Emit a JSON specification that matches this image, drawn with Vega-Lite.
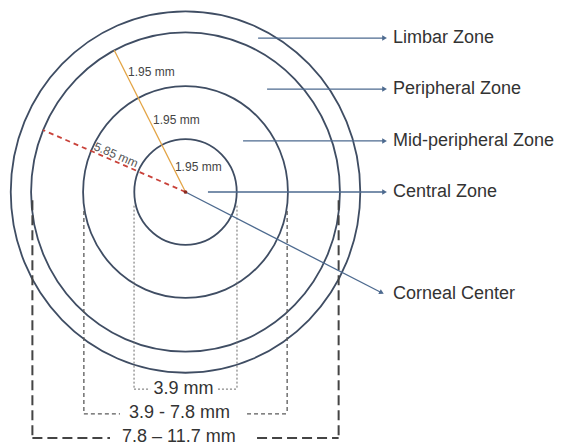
{
  "$schema": "https://vega.github.io/schema/vega-lite/v6.json",
  "width": 571,
  "height": 448,
  "autosize": {"type": "none"},
  "padding": 0,
  "background": "white",
  "config": {"view": {"stroke": null}},
  "datasets": {
    "circles": [
      {"zone": "Limbar", "x": 0, "y": 0, "r": 6.62},
      {"zone": "Peripheral", "x": 0, "y": 0, "r": 5.85},
      {"zone": "Mid-peripheral", "x": 0, "y": 0, "r": 3.88},
      {"zone": "Central", "x": 0, "y": 0, "r": 1.94}
    ],
    "radii": [
      {"kind": "orange", "x": 0, "y": 0, "x2": -2.70, "y2": 5.19},
      {"kind": "red", "x": 0, "y": 0, "x2": -5.40, "y2": 2.27}
    ],
    "arrows": [
      {"label": "Limbar Zone", "x": 2.75, "y": 5.64, "x2": 7.54, "y2": 5.64},
      {"label": "Peripheral Zone", "x": 3.09, "y": 3.77, "x2": 7.54, "y2": 3.77},
      {"label": "Mid-peripheral Zone", "x": 2.18, "y": 1.87, "x2": 7.54, "y2": 1.87},
      {"label": "Central Zone", "x": 0.85, "y": 0, "x2": 7.54, "y2": 0},
      {"label": "Corneal Center", "x": 0, "y": 0, "x2": 7.43, "y2": -3.69}
    ],
    "heads": [
      {"label": "Limbar Zone", "x": 7.54, "y": 5.64, "dir": "h"},
      {"label": "Peripheral Zone", "x": 7.54, "y": 3.77, "dir": "h"},
      {"label": "Mid-peripheral Zone", "x": 7.54, "y": 1.87, "dir": "h"},
      {"label": "Central Zone", "x": 7.54, "y": 0, "dir": "h"},
      {"label": "Corneal Center", "x": 7.43, "y": -3.69, "dir": "d"}
    ],
    "zoneLabels": [
      {"label": "Limbar Zone", "x": 7.86, "y": 5.64},
      {"label": "Peripheral Zone", "x": 7.86, "y": 3.77},
      {"label": "Mid-peripheral Zone", "x": 7.86, "y": 1.87},
      {"label": "Central Zone", "x": 7.86, "y": 0},
      {"label": "Corneal Center", "x": 7.86, "y": -3.74}
    ],
    "brackets": [
      {"level": "inner", "x": -1.95, "y": -0.5, "x2": -1.95, "y2": -7.22},
      {"level": "inner", "x": 1.95, "y": -0.5, "x2": 1.95, "y2": -7.22},
      {"level": "inner", "x": -1.95, "y": -7.22, "x2": -1.34, "y2": -7.22},
      {"level": "inner", "x": 1.23, "y": -7.22, "x2": 1.95, "y2": -7.22},
      {"level": "middle", "x": -3.85, "y": -0.7, "x2": -3.85, "y2": -8.13},
      {"level": "middle", "x": 3.85, "y": -0.7, "x2": 3.85, "y2": -8.13},
      {"level": "middle", "x": -3.85, "y": -8.13, "x2": -2.48, "y2": -8.13},
      {"level": "middle", "x": 2.33, "y": -8.13, "x2": 3.85, "y2": -8.13},
      {"level": "outer", "x": -5.8, "y": -0.3, "x2": -5.8, "y2": -9.01},
      {"level": "outer", "x": 5.8, "y": -0.3, "x2": 5.8, "y2": -9.01},
      {"level": "outer", "x": -5.8, "y": -9.01, "x2": -2.86, "y2": -9.01},
      {"level": "outer", "x": 2.71, "y": -9.01, "x2": 5.8, "y2": -9.01}
    ],
    "bracketLabels": [
      {"label": "3.9 mm", "x": -0.08, "y": -7.22},
      {"label": "3.9 - 7.8 mm", "x": -0.23, "y": -8.10},
      {"label": "7.8 – 11.7 mm", "x": -0.25, "y": -8.97}
    ],
    "widthLabels": [
      {"label": "1.95 mm", "x": -2.18, "y": 4.40},
      {"label": "1.95 mm", "x": -1.23, "y": 2.64},
      {"label": "1.95 mm", "x": -0.40, "y": 0.92}
    ],
    "radiusLabel": [
      {"label": "5.85 mm", "x": -2.63, "y": 1.36}
    ],
    "center": [{"x": 0, "y": 0}]
  },
  "layer": [
    {
      "data": {"name": "circles"},
      "mark": {"type": "point", "shape": "M-0.967,0A0.967,1 0 1,1 0.967,0A0.967,1 0 1,1 -0.967,0Z", "filled": false, "stroke": "#3f4d63", "strokeWidth": 1.8, "opacity": 1},
      "encoding": {
        "x": {"field": "x", "type": "quantitative", "scale": {"domain": [-7.027, 14.602], "nice": false, "zero": false}, "axis": null},
        "y": {"field": "y", "type": "quantitative", "scale": {"domain": [-9.377, 7.033], "nice": false, "zero": false}, "axis": null},
        "size": {"field": "r", "type": "quantitative", "scale": {"type": "pow", "exponent": 2, "domain": [0, 6.62], "range": [0, 130646]}, "legend": null}
      }
    },
    {
      "data": {"name": "brackets"},
      "transform": [{"filter": "datum.level === 'inner'"}],
      "mark": {"type": "rule", "stroke": "#6a6a6a", "strokeWidth": 1, "strokeDash": [2, 2]},
      "encoding": {
        "x": {"field": "x", "type": "quantitative", "axis": null},
        "y": {"field": "y", "type": "quantitative", "axis": null},
        "x2": {"field": "x2"},
        "y2": {"field": "y2"}
      }
    },
    {
      "data": {"name": "brackets"},
      "transform": [{"filter": "datum.level === 'middle'"}],
      "mark": {"type": "rule", "stroke": "#5a5a5a", "strokeWidth": 1.3, "strokeDash": [4, 3]},
      "encoding": {
        "x": {"field": "x", "type": "quantitative", "axis": null},
        "y": {"field": "y", "type": "quantitative", "axis": null},
        "x2": {"field": "x2"},
        "y2": {"field": "y2"}
      }
    },
    {
      "data": {"name": "brackets"},
      "transform": [{"filter": "datum.level === 'outer'"}],
      "mark": {"type": "rule", "stroke": "#444444", "strokeWidth": 2, "strokeDash": [10, 5]},
      "encoding": {
        "x": {"field": "x", "type": "quantitative", "axis": null},
        "y": {"field": "y", "type": "quantitative", "axis": null},
        "x2": {"field": "x2"},
        "y2": {"field": "y2"}
      }
    },
    {
      "data": {"name": "arrows"},
      "mark": {"type": "rule", "stroke": "#4d6a8f", "strokeWidth": 1.3},
      "encoding": {
        "x": {"field": "x", "type": "quantitative", "axis": null},
        "y": {"field": "y", "type": "quantitative", "axis": null},
        "x2": {"field": "x2"},
        "y2": {"field": "y2"}
      }
    },
    {
      "data": {"name": "heads"},
      "transform": [{"filter": "datum.dir === 'h'"}],
      "mark": {"type": "point", "shape": "triangle-right", "filled": true, "fill": "#4d6a8f", "size": 30, "opacity": 1},
      "encoding": {
        "x": {"field": "x", "type": "quantitative", "axis": null},
        "y": {"field": "y", "type": "quantitative", "axis": null}
      }
    },
    {
      "data": {"name": "heads"},
      "transform": [{"filter": "datum.dir === 'd'"}],
      "mark": {"type": "point", "shape": "triangle-right", "filled": true, "fill": "#4d6a8f", "size": 30, "angle": 27, "opacity": 1},
      "encoding": {
        "x": {"field": "x", "type": "quantitative", "axis": null},
        "y": {"field": "y", "type": "quantitative", "axis": null}
      }
    },
    {
      "data": {"name": "radii"},
      "transform": [{"filter": "datum.kind === 'orange'"}],
      "mark": {"type": "rule", "stroke": "#e3a445", "strokeWidth": 1.3},
      "encoding": {
        "x": {"field": "x", "type": "quantitative", "axis": null},
        "y": {"field": "y", "type": "quantitative", "axis": null},
        "x2": {"field": "x2"},
        "y2": {"field": "y2"}
      }
    },
    {
      "data": {"name": "radii"},
      "transform": [{"filter": "datum.kind === 'red'"}],
      "mark": {"type": "rule", "stroke": "#c9423a", "strokeWidth": 1.8, "strokeDash": [5, 4]},
      "encoding": {
        "x": {"field": "x", "type": "quantitative", "axis": null},
        "y": {"field": "y", "type": "quantitative", "axis": null},
        "x2": {"field": "x2"},
        "y2": {"field": "y2"}
      }
    },
    {
      "data": {"name": "center"},
      "mark": {"type": "point", "shape": "circle", "filled": true, "fill": "#8a2a20", "size": 14, "opacity": 1},
      "encoding": {
        "x": {"field": "x", "type": "quantitative", "axis": null},
        "y": {"field": "y", "type": "quantitative", "axis": null}
      }
    },
    {
      "data": {"name": "zoneLabels"},
      "mark": {"type": "text", "align": "left", "baseline": "middle", "font": "Liberation Sans", "fontSize": 18, "fill": "#333333"},
      "encoding": {
        "x": {"field": "x", "type": "quantitative", "axis": null},
        "y": {"field": "y", "type": "quantitative", "axis": null},
        "text": {"field": "label"}
      }
    },
    {
      "data": {"name": "bracketLabels"},
      "mark": {"type": "text", "align": "center", "baseline": "middle", "font": "Liberation Sans", "fontSize": 18, "fill": "#333333"},
      "encoding": {
        "x": {"field": "x", "type": "quantitative", "axis": null},
        "y": {"field": "y", "type": "quantitative", "axis": null},
        "text": {"field": "label"}
      }
    },
    {
      "data": {"name": "widthLabels"},
      "mark": {"type": "text", "align": "left", "baseline": "middle", "font": "Liberation Sans", "fontSize": 12, "fill": "#444444"},
      "encoding": {
        "x": {"field": "x", "type": "quantitative", "axis": null},
        "y": {"field": "y", "type": "quantitative", "axis": null},
        "text": {"field": "label"}
      }
    },
    {
      "data": {"name": "radiusLabel"},
      "mark": {"type": "text", "align": "center", "baseline": "middle", "font": "Liberation Sans", "fontSize": 12, "fill": "#555555", "angle": 23},
      "encoding": {
        "x": {"field": "x", "type": "quantitative", "axis": null},
        "y": {"field": "y", "type": "quantitative", "axis": null},
        "text": {"field": "label"}
      }
    }
  ]
}
